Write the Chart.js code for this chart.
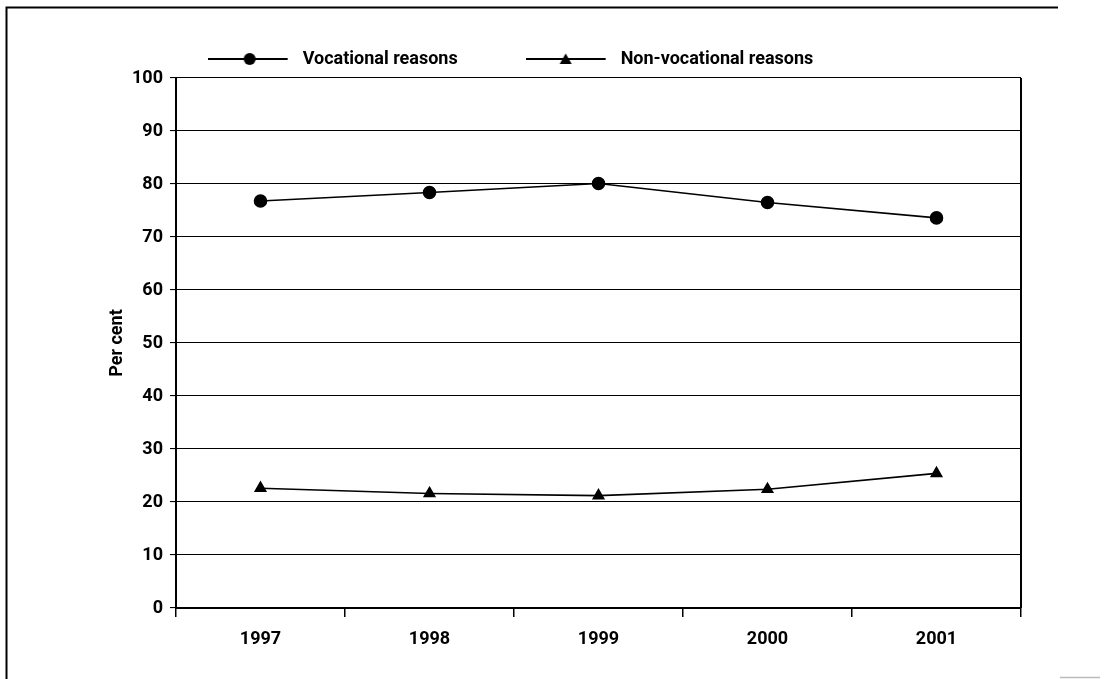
<!DOCTYPE html>
<html><head><meta charset="utf-8">
<script src="https://cdn.jsdelivr.net/npm/chart.js@4.4.0/dist/chart.umd.min.js"></script>
<style>html,body{margin:0;padding:0;background:#fff;}#wrap{width:1109px;height:679px;position:relative;}</style>
</head><body><div id="wrap"><canvas id="c" width="1109" height="679"></canvas></div>
<script>
const years = ['1997','1998','1999','2000','2001'];
const vocational = [76.8, 78.4, 80.1, 76.5, 73.6];
const nonVocational = [22.6, 21.6, 21.2, 22.4, 25.4];
const yTicks = [0,10,20,30,40,50,60,70,80,90,100];
const seriesNames = ['Vocational reasons', 'Non-vocational reasons'];
const yTitle = 'Per cent';

const FONT = "'Roboto', 'Liberation Sans', sans-serif";

function legendIcon(style){
  const cv = document.createElement('canvas');
  cv.width = 86; cv.height = 14;
  const g = cv.getContext('2d');
  g.strokeStyle = '#000'; g.lineWidth = 2;
  g.beginPath(); g.moveTo(0,7); g.lineTo(80,7); g.stroke();
  g.fillStyle = '#000';
  if (style === 'circle'){
    g.beginPath(); g.arc(42,7,6,0,Math.PI*2); g.fill();
  } else {
    g.beginPath(); g.moveTo(40,1.5); g.lineTo(46,12); g.lineTo(34,12); g.closePath(); g.fill();
  }
  return cv;
}
const icons = [legendIcon('circle'), legendIcon('triangle')];

const framePlugin = {
  id: 'frame',
  afterDraw(chart){
    const ctx = chart.ctx, a = chart.chartArea;
    ctx.save();
    ctx.strokeStyle = '#000'; ctx.lineWidth = 2;
    ctx.beginPath(); ctx.moveTo(6.5, 679); ctx.lineTo(6.5, 7.5); ctx.lineTo(1058, 7.5); ctx.stroke();
    ctx.strokeStyle = '#bbb'; ctx.lineWidth = 1.5;
    ctx.beginPath(); ctx.moveTo(1060, 677.5); ctx.lineTo(1100, 677.5); ctx.stroke();
    ctx.strokeStyle = '#000'; ctx.lineWidth = 2;
    ctx.beginPath(); ctx.moveTo(a.right, a.top); ctx.lineTo(a.right, a.bottom); ctx.stroke();
    ctx.restore();
  }
};

new Chart(document.getElementById('c'), {
  type: 'line',
  data: {
    labels: years,
    datasets: [
      { label: seriesNames[0], data: vocational, borderColor:'#000', backgroundColor:'#000', borderWidth:1.6,
        pointStyle:'circle', pointRadius:6, pointHoverRadius:6, tension:0 },
      { label: seriesNames[1], data: nonVocational, borderColor:'#000', backgroundColor:'#000', borderWidth:1.6,
        pointStyle:'triangle', pointRadius:6, pointHoverRadius:6, tension:0 }
    ]
  },
  options: {
    responsive:false, animation:false, devicePixelRatio:1,
    layout:{ padding:{ left:0, right:88, top:-18, bottom:0 } },
    plugins:{
      legend:{
        position:'top', align:'center',
        labels:{
          usePointStyle:true, pointStyleWidth:86, boxHeight:14, padding:68,
          color:'#000', font:{ family:FONT, size:18, weight:'bold' },
          generateLabels(chart){
            return chart.data.datasets.map((d,i)=>({ text:d.label, pointStyle:icons[i], fillStyle:'#000', strokeStyle:'#000', lineWidth:0, hidden:false, datasetIndex:i }));
          }
        }
      },
      tooltip:{enabled:false}
    },
    scales:{
      x:{
        offset:true,
        grid:{ offset:true, drawOnChartArea:false, drawTicks:true, tickLength:9, color:'#000', lineWidth:1.5 },
        border:{ color:'#000', width:2 },
        ticks:{ color:'#000', font:{ family:FONT, size:18, weight:'bold' }, padding:12 },
        afterFit(s){ s.height = 71; }
      },
      y:{
        min:0, max:100,
        afterBuildTicks(s){ s.ticks = yTicks.map(v=>({value:v})); },
        grid:{ color:'#000', lineWidth:1.1, tickLength:6 },
        border:{ color:'#000', width:2 },
        ticks:{ color:'#000', font:{ family:FONT, size:18, weight:'bold' }, padding:7 },
        title:{ display:true, text:yTitle, color:'#000', font:{ family:FONT, size:18, weight:'bold' }, padding:{top:107,bottom:0} },
        afterFit(s){ s.width = 176; }
      }
    }
  },
  plugins:[framePlugin]
});
</script></body></html>
